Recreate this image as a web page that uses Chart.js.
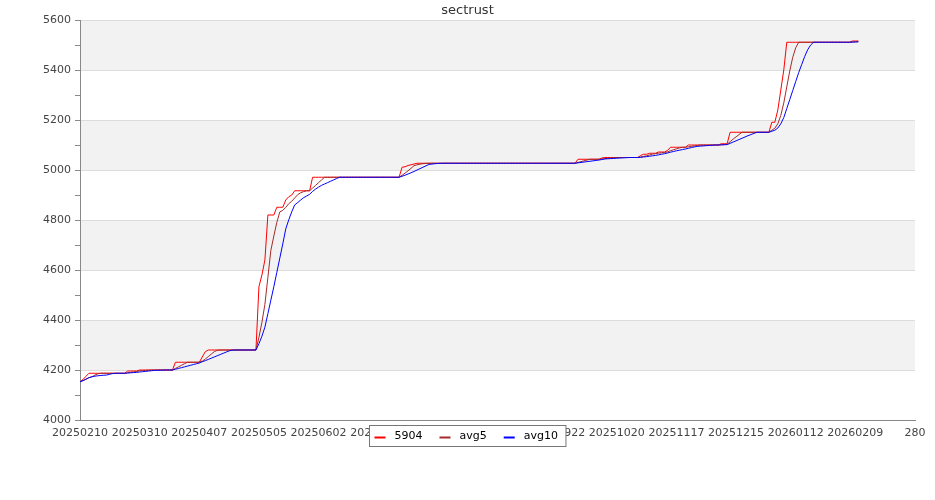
<!DOCTYPE html>
<html><head><meta charset="utf-8">
<script src="https://cdn.jsdelivr.net/npm/chart.js@4.4.1/dist/chart.umd.min.js"></script>
<style>html,body{margin:0;padding:0;background:#fff}#wrap{width:935px;height:500px}</style>
</head><body><div id="wrap"><canvas id="c" width="935" height="500"></canvas></div>
<script>
const chartTitle = 'sectrust';
const seriesNames = ['5904', 'avg5', 'avg10'];
const xTickLabels = ['20250210','20250310','20250407','20250505','20250602','20250630','20250728','20250825','20250922','20251020','20251117','20251215','20260112','20260209','280'];

const price = [
4153,4162,4175,4187,4187,4187,4187,4187,4187,4187,
4187,4187,4187,4187,4187,4187,4196,4196,4196,4196,
4200,4200,4200,4200,4200,4200,4200,4200,4200,4200,
4200,4200,4231,4231,4231,4231,4231,4231,4231,4231,
4231,4252,4273,4280,4280,4280,4280,4280,4280,4280,
4280,4280,4280,4280,4280,4280,4280,4280,4280,4280,
4533,4580,4640,4820,4820,4820,4851,4851,4851,4880,
4893,4900,4917,4917,4917,4917,4917,4917,4971,4971,
4971,4971,4971,4971,4971,4971,4971,4971,4971,4971,
4971,4971,4971,4971,4971,4971,4971,4971,4971,4971,
4971,4971,4971,4971,4971,4971,4971,4971,5011,5013,
5018,5021,5024,5027,5027,5027,5027,5027,5027,5027,
5027,5027,5027,5027,5027,5027,5027,5027,5027,5027,
5027,5027,5027,5027,5027,5027,5027,5027,5027,5027,
5027,5027,5027,5027,5027,5027,5027,5027,5027,5027,
5027,5027,5027,5027,5027,5027,5027,5027,5027,5027,
5027,5027,5027,5027,5027,5027,5027,5043,5043,5043,
5043,5043,5043,5043,5043,5048,5050,5050,5050,5050,
5050,5050,5050,5050,5050,5050,5050,5050,5058,5063,
5063,5067,5067,5067,5072,5072,5072,5078,5091,5091,
5091,5091,5091,5091,5100,5100,5100,5100,5100,5100,
5100,5100,5100,5100,5100,5105,5105,5105,5151,5151,
5151,5151,5151,5151,5151,5151,5151,5151,5151,5151,
5151,5151,5191,5191,5240,5320,5400,5511,5511,5511,
5511,5511,5511,5511,5511,5511,5511,5511,5511,5511,
5511,5511,5511,5511,5511,5511,5511,5511,5511,5516,
5516,5516
];

const avg5 = [
4153,4157.5,4163.3,4169.3,4172.8,4179.6,4184.6,4187,4187,4187,
4187,4187,4187,4187,4187,4187,4188.8,4190.6,4192.4,4194.2,
4196.8,4197.6,4198.4,4199.2,4200,4200,4200,4200,4200,4200,
4200,4200,4206.2,4212.4,4218.6,4224.8,4231,4231,4231,4231,
4231,4235.2,4243.6,4253.4,4263.2,4273,4278.6,4280,4280,4280,
4280,4280,4280,4280,4280,4280,4280,4280,4280,4280,
4330.6,4390.6,4462.6,4570.6,4678.6,4736,4790.2,4832.4,4838.6,4850.6,
4865.2,4875,4888.2,4901.4,4908.8,4913.6,4917,4917,4927.8,4938.6,
4949.4,4960.2,4971,4971,4971,4971,4971,4971,4971,4971,
4971,4971,4971,4971,4971,4971,4971,4971,4971,4971,
4971,4971,4971,4971,4971,4971,4971,4971,4979,4987.4,
4996.8,5006.8,5017.4,5020.6,5023.4,5025.2,5026.4,5027,5027,5027,
5027,5027,5027,5027,5027,5027,5027,5027,5027,5027,
5027,5027,5027,5027,5027,5027,5027,5027,5027,5027,
5027,5027,5027,5027,5027,5027,5027,5027,5027,5027,
5027,5027,5027,5027,5027,5027,5027,5027,5027,5027,
5027,5027,5027,5027,5027,5027,5027,5030.2,5033.4,5036.6,
5039.8,5043,5043,5043,5043,5044,5045.4,5046.8,5048.2,5049.6,
5050,5050,5050,5050,5050,5050,5050,5050,5051.6,5054.2,
5056.8,5060.2,5063.6,5065.4,5067.2,5069,5070,5072.2,5077,5080.8,
5084.6,5088.4,5091,5091,5092.8,5094.6,5096.4,5098.2,5100,5100,
5100,5100,5100,5100,5100,5101,5102,5103,5113.2,5123.4,
5132.6,5141.8,5151,5151,5151,5151,5151,5151,5151,5151,
5151,5151,5159,5167,5184.8,5218.6,5268.4,5332.4,5396.4,5450.6,
5488.8,5511,5511,5511,5511,5511,5511,5511,5511,5511,
5511,5511,5511,5511,5511,5511,5511,5511,5511,5512,
5513,5514
];

const avg10 = [
4153,4157.5,4163.3,4169.3,4172.8,4175.2,4176.9,4178.1,4179.1,4179.9,
4183.3,4185.8,4187,4187,4187,4187,4187.9,4188.8,4189.7,4190.6,
4191.9,4193.2,4194.5,4195.8,4197.1,4198.4,4198.8,4199.2,4199.6,4200,
4200,4200,4203.1,4206.2,4209.3,4212.4,4215.5,4218.6,4221.7,4224.8,
4227.9,4233.1,4237.3,4242.2,4247.1,4252,4256.9,4261.8,4266.7,4271.6,
4276.5,4279.3,4280,4280,4280,4280,4280,4280,4280,4280,
4305.3,4335.3,4371.3,4425.3,4479.3,4533.3,4590.4,4647.5,4704.6,4764.6,
4800.6,4832.6,4860.3,4870,4879.7,4889.4,4896,4902.6,4914.6,4923.7,
4931.5,4938.6,4944,4949.4,4954.8,4960.2,4965.6,4971,4971,4971,
4971,4971,4971,4971,4971,4971,4971,4971,4971,4971,
4971,4971,4971,4971,4971,4971,4971,4971,4975,4979.2,
4983.9,4988.9,4994.2,4999.8,5005.4,5011,5016.6,5022.2,5023.8,5025.2,
5026.1,5026.7,5027,5027,5027,5027,5027,5027,5027,5027,
5027,5027,5027,5027,5027,5027,5027,5027,5027,5027,
5027,5027,5027,5027,5027,5027,5027,5027,5027,5027,
5027,5027,5027,5027,5027,5027,5027,5027,5027,5027,
5027,5027,5027,5027,5027,5027,5027,5028.6,5030.2,5031.8,
5033.4,5035,5036.6,5038.2,5039.8,5041.9,5044.2,5044.9,5045.6,5046.3,
5047,5047.7,5048.4,5049.1,5049.8,5050,5050,5050,5050.8,5052.1,
5053.4,5055.1,5056.8,5058.5,5060.7,5062.9,5065.1,5067.9,5071.2,5074,
5076.8,5079.2,5081.6,5084,5086.8,5089.6,5092.4,5094.6,5095.5,5096.4,
5097.3,5098.2,5099.1,5100,5100,5100.5,5101,5101.5,5106.6,5111.7,
5116.8,5121.9,5127,5132.1,5137.2,5141.8,5146.4,5151,5151,5151,
5151,5151,5155,5159,5167.9,5184.8,5209.7,5245.7,5281.7,5317.7,
5353.7,5389.7,5421.7,5453.7,5480.8,5499.9,5511,5511,5511,5511,
5511,5511,5511,5511,5511,5511,5511,5511,5511,5511.5,
5512,5512.5
];

const seriesColors = ['#ff0000', '#a52a2a', '#0000ff'];
const yBands = [[4200, 4400], [4600, 4800], [5000, 5200], [5400, 5600]];

Chart.defaults.font.family = '"DejaVu Sans", sans-serif';

const bandPlugin = {
  id: 'bands',
  beforeDraw(chart) {
    const { ctx, chartArea: a, scales: { y } } = chart;
    ctx.save();
    ctx.fillStyle = '#f2f2f2';
    yBands.forEach(([lo, hi]) => {
      const t = y.getPixelForValue(hi), b = y.getPixelForValue(lo);
      ctx.fillRect(a.left, t, a.right - a.left, b - t);
    });
    ctx.restore();
  }
};

const boxLegend = {
  id: 'boxLegend',
  afterDraw(chart) {
    const ctx = chart.ctx;
    const ds = chart.data.datasets;
    ctx.save();
    ctx.font = '11px "DejaVu Sans"';
    const widths = ds.map(d => ctx.measureText(d.label).width);
    const padL = 5, sw = 11, g1 = 9, g2 = 17, padR = 8;
    let total = padL + padR;
    widths.forEach((w, i) => { total += sw + g1 + w; if (i < ds.length - 1) total += g2; });
    const x0 = Math.round(chart.width / 2 - total / 2) + 0.5;
    const y0 = 425.5, h = 21;
    ctx.fillStyle = '#ffffff';
    ctx.fillRect(x0, y0, total, h);
    ctx.strokeStyle = '#777777';
    ctx.lineWidth = 1;
    ctx.strokeRect(x0, y0, total, h);
    let x = x0 + padL;
    const yl = 437.5;
    ds.forEach((d, i) => {
      ctx.strokeStyle = d.borderColor;
      ctx.lineWidth = 2;
      ctx.beginPath(); ctx.moveTo(x, yl); ctx.lineTo(x + sw, yl); ctx.stroke();
      x += sw + g1;
      ctx.fillStyle = '#000000';
      ctx.textBaseline = 'middle';
      ctx.textAlign = 'left';
      ctx.fillText(d.label, x, 436);
      x += widths[i] + g2;
    });
    ctx.restore();
  }
};

const toPoints = arr => arr.map((v, i) => ({ x: i, y: v }));

new Chart(document.getElementById('c'), {
  type: 'line',
  data: {
    datasets: [
      { label: seriesNames[0], data: toPoints(price), borderColor: seriesColors[0], backgroundColor: seriesColors[0], borderWidth: 1, pointRadius: 0, tension: 0, fill: false, order: 3 },
      { label: seriesNames[1], data: toPoints(avg5), borderColor: seriesColors[1], backgroundColor: seriesColors[1], borderWidth: 1, pointRadius: 0, tension: 0, fill: false, order: 2 },
      { label: seriesNames[2], data: toPoints(avg10), borderColor: seriesColors[2], backgroundColor: seriesColors[2], borderWidth: 1, pointRadius: 0, tension: 0, fill: false, order: 1 }
    ]
  },
  options: {
    responsive: false,
    animation: false,
    devicePixelRatio: 1,
    layout: { padding: { left: 0, right: 0, top: 0, bottom: 0 } },
    plugins: {
      legend: { display: false },
      tooltip: { enabled: false },
      title: { display: true, text: chartTitle, color: '#333333', font: { size: 13, weight: 'normal' }, padding: { top: 3, bottom: 1.4 } }
    },
    scales: {
      x: {
        type: 'linear', min: 0, max: 280,
        grid: { display: false, drawTicks: false },
        border: { display: true, color: '#888888', width: 1 },
        ticks: {
          stepSize: 20, autoSkip: false, maxRotation: 0, minRotation: 0, padding: 7,
          color: '#444444', font: { size: 11 },
          callback: v => { const k = Math.round(v / 20); return xTickLabels[k] !== undefined ? xTickLabels[k] : String(v); }
        },
        afterFit(s) { s.height = 80; s.paddingLeft = 0; s.paddingRight = 20; }
      },
      y: {
        min: 4000, max: 5600,
        grid: {
          color: c => (c.tick && c.tick.value % 200 === 0) ? '#dcdcdc' : 'rgba(0,0,0,0)',
          tickColor: '#888888', tickLength: 5, drawTicks: true
        },
        border: { display: true, color: '#888888', width: 1 },
        ticks: {
          stepSize: 100, autoSkip: false, padding: 4, color: '#444444', font: { size: 11 },
          callback: v => (v % 200 === 0 ? String(v) : '')
        },
        afterFit(s) { s.width = 80; s.paddingTop = 0; s.paddingBottom = 0; }
      }
    }
  },
  plugins: [bandPlugin, boxLegend]
});
</script>
</body></html>
